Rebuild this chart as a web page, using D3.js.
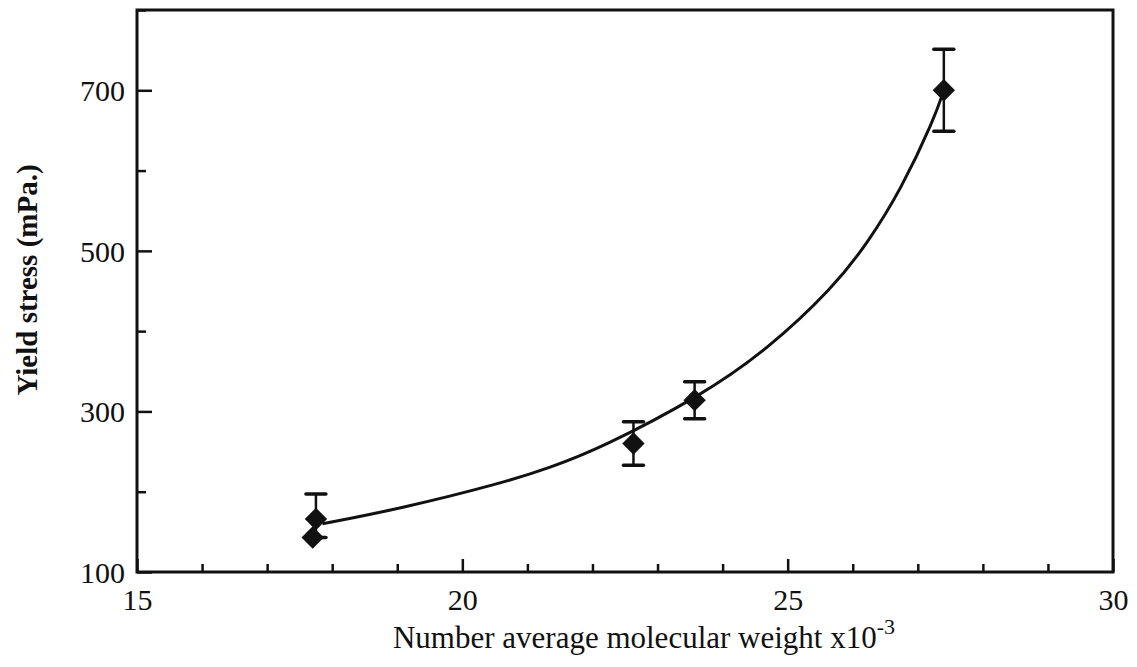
<!DOCTYPE html>
<html>
<head>
<meta charset="utf-8">
<script src="https://cdn.jsdelivr.net/npm/d3@7"></script>
<style>
  body { margin: 0; background: #fff; }
  svg text { font-family: "Liberation Serif", "Times New Roman", serif !important; fill: #111; }
</style>
</head>
<body>
<svg id="chart" width="1137" height="667"></svg>
<script>
// measured points (MW x10^-3 vs yield stress, mPa)
const molWeight = [17.7, 17.75, 22.63, 23.57, 27.4];
const yieldStress = [143, 166, 260, 314, 700];
const errUp = [0, 31, 27, 23, 51];
const errDown = [0, 23, 27, 23, 51];

// fitted trend line
const fitWeight = [17.85, 19.05, 20.58, 21.35, 22.12, 23.66, 24.69, 25.71, 26.23, 26.74, 27.25, 27.4];
const fitStress = [160, 179, 210, 230, 254, 319, 377, 455, 510, 576, 664, 700];

const xTickLabels = [15, 20, 25, 30];
const yTickLabels = [100, 300, 500, 700];

const svg = d3.select("#chart");
const margin = { left: 137, top: 10, right: 24, bottom: 95 };
const width = +svg.attr("width");
const height = +svg.attr("height");

const x = d3.scaleLinear().domain([15, 30]).range([margin.left, width - margin.right]);
const y = d3.scaleLinear().domain([100, 800]).range([height - margin.bottom, margin.top]);

const ink = "#111";
const serif = "'Liberation Serif', 'Times New Roman', serif";

// frame
svg.append("rect")
  .attr("x", x(15)).attr("y", y(800))
  .attr("width", x(30) - x(15)).attr("height", y(100) - y(800))
  .attr("fill", "none").attr("stroke", ink).attr("stroke-width", 3);

// x axis: ticks pointing inward
const xAxis = svg.append("g").attr("transform", `translate(0,${y(100)})`)
  .call(d3.axisBottom(x).tickValues(d3.range(15, 31, 1)).tickSize(0).tickFormat(""))
  .attr("font-family", serif);
xAxis.select(".domain").remove();
xAxis.selectAll(".tick line")
  .attr("y2", d => xTickLabels.includes(d) ? -13 : -8)
  .attr("stroke", ink).attr("stroke-width", 2.5);
xAxis.selectAll(".tick")
  .filter(d => xTickLabels.includes(d))
  .append("text")
  .attr("y", 38)
  .attr("text-anchor", "middle")
  .attr("font-size", 30)
  .style("font-family", serif)
  .text(d => d);

// y axis: ticks pointing inward
const yAxis = svg.append("g").attr("transform", `translate(${x(15)},0)`)
  .call(d3.axisLeft(y).tickValues(d3.range(100, 801, 100)).tickSize(0).tickFormat(""))
  .attr("font-family", serif);
yAxis.select(".domain").remove();
yAxis.selectAll(".tick line")
  .attr("x2", d => yTickLabels.includes(d) ? 15 : 9)
  .attr("stroke", ink).attr("stroke-width", 2.5);
yAxis.selectAll(".tick")
  .filter(d => yTickLabels.includes(d))
  .append("text")
  .attr("x", -12)
  .attr("dy", "0.35em")
  .attr("text-anchor", "end")
  .attr("font-size", 30)
  .style("font-family", serif)
  .text(d => d);

// axis titles
const xTitle = svg.append("text")
  .attr("x", 644).attr("y", 648)
  .attr("text-anchor", "middle")
  .attr("font-size", 31);
xTitle.append("tspan").text("Number average molecular weight x10");
xTitle.append("tspan").attr("dy", -14).attr("font-size", 22).text("-3");

svg.append("text")
  .attr("transform", "translate(37,280) rotate(-90)")
  .attr("text-anchor", "middle")
  .attr("font-size", 29)
  .attr("font-weight", "bold")
  .text("Yield stress (mPa.)");

// fitted curve
const fitData = fitWeight.map((w, i) => ({ w, s: fitStress[i] }));
svg.append("path")
  .datum(fitData)
  .attr("fill", "none")
  .attr("stroke", ink)
  .attr("stroke-width", 3)
  .attr("d", d3.line().x(d => x(d.w)).y(d => y(d.s)).curve(d3.curveBasis));

// error bars
const pts = molWeight.map((w, i) => ({ w, s: yieldStress[i], up: errUp[i], down: errDown[i] }));
const bars = svg.append("g").selectAll("g")
  .data(pts.filter(d => d.up > 0))
  .join("g");
bars.append("line")
  .attr("x1", d => x(d.w)).attr("x2", d => x(d.w))
  .attr("y1", d => y(d.s - d.down)).attr("y2", d => y(d.s + d.up))
  .attr("stroke", ink).attr("stroke-width", 2.5);
bars.selectAll(".cap")
  .data(d => [d.s - d.down, d.s + d.up].map(v => ({ w: d.w, v })))
  .join("line")
  .attr("x1", d => x(d.w) - 10).attr("x2", d => x(d.w) + 10)
  .attr("y1", d => y(d.v)).attr("y2", d => y(d.v))
  .attr("stroke", ink).attr("stroke-width", 3.5)
  .attr("stroke-linecap", "round");

// diamond markers
svg.append("g").selectAll("path")
  .data(pts)
  .join("path")
  .attr("transform", d => `translate(${x(d.w)},${y(d.s)}) rotate(45)`)
  .attr("d", d3.symbol().type(d3.symbolSquare).size(250))
  .attr("fill", ink);
</script>
</body>
</html>
